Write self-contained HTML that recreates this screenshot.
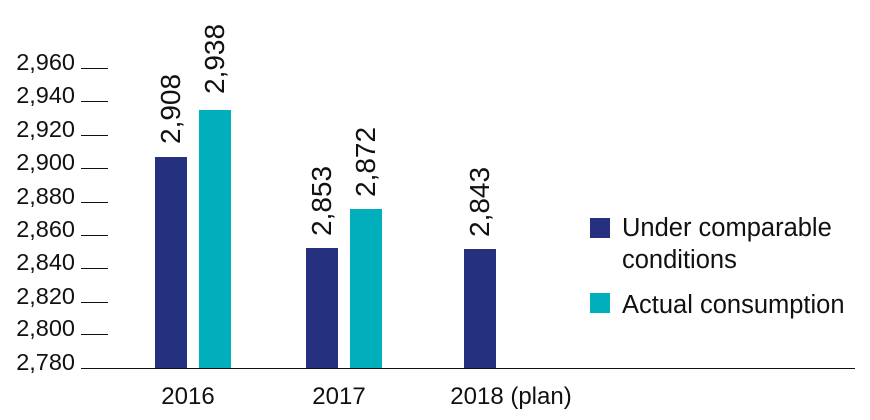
<!DOCTYPE html>
<html><head><style>
body{margin:0;width:870px;height:420px;background:#fff;font-family:"Liberation Sans",Arial,sans-serif;color:#111;position:relative;overflow:hidden}
.a{position:absolute}
.yl{position:absolute;left:0;width:75px;text-align:right;font-size:23.5px;line-height:24px}
.tk{position:absolute;left:81px;width:27px;height:0;border-top:1.5px solid #111}
.bar{position:absolute;width:32px}
.d{background:#25307f}.t{background:#00afbb}
.v{position:absolute;font-size:28px;transform:rotate(-90deg);transform-origin:left top;white-space:nowrap;line-height:28px}
.xl{position:absolute;top:383px;font-size:24px;text-align:center;width:170px}
.lg{position:absolute;font-size:25.5px;line-height:32px}
</style></head><body>
<div class="yl" style="top:50px">2,960</div><div class="tk" style="top:68px"></div>
<div class="yl" style="top:83px">2,940</div><div class="tk" style="top:101px"></div>
<div class="yl" style="top:117px">2,920</div><div class="tk" style="top:135px"></div>
<div class="yl" style="top:150px">2,900</div><div class="tk" style="top:168px"></div>
<div class="yl" style="top:184px">2,880</div><div class="tk" style="top:202px"></div>
<div class="yl" style="top:217px">2,860</div><div class="tk" style="top:235px"></div>
<div class="yl" style="top:250px">2,840</div><div class="tk" style="top:268px"></div>
<div class="yl" style="top:284px">2,820</div><div class="tk" style="top:302px"></div>
<div class="yl" style="top:316px">2,800</div><div class="tk" style="top:334px"></div>
<div class="yl" style="top:350px">2,780</div>
<div class="a" style="left:81px;top:368px;width:774px;border-top:1.5px solid #111"></div>
<div class="bar d" style="left:155px;top:157px;height:211px"></div>
<div class="bar t" style="left:199px;top:110px;height:258px"></div>
<div class="bar d" style="left:306px;top:248px;height:120px"></div>
<div class="bar t" style="left:350px;top:209px;height:159px"></div>
<div class="bar d" style="left:464px;top:249px;height:119px"></div>
<div class="v" style="left:157px;top:144px">2,908</div>
<div class="v" style="left:201px;top:94px">2,938</div>
<div class="v" style="left:308px;top:236px">2,853</div>
<div class="v" style="left:352px;top:197px">2,872</div>
<div class="v" style="left:466px;top:237px">2,843</div>
<div class="xl" style="left:103px">2016</div>
<div class="xl" style="left:254px">2017</div>
<div class="xl" style="left:426px">2018 (plan)</div>
<div class="a d" style="left:590px;top:218px;width:20px;height:20px"></div>
<div class="a t" style="left:590px;top:293px;width:20px;height:20px"></div>
<div class="lg" style="left:622px;top:212px">Under comparable<br>conditions</div>
<div class="lg" style="left:622px;top:289px">Actual consumption</div>
</body></html>
